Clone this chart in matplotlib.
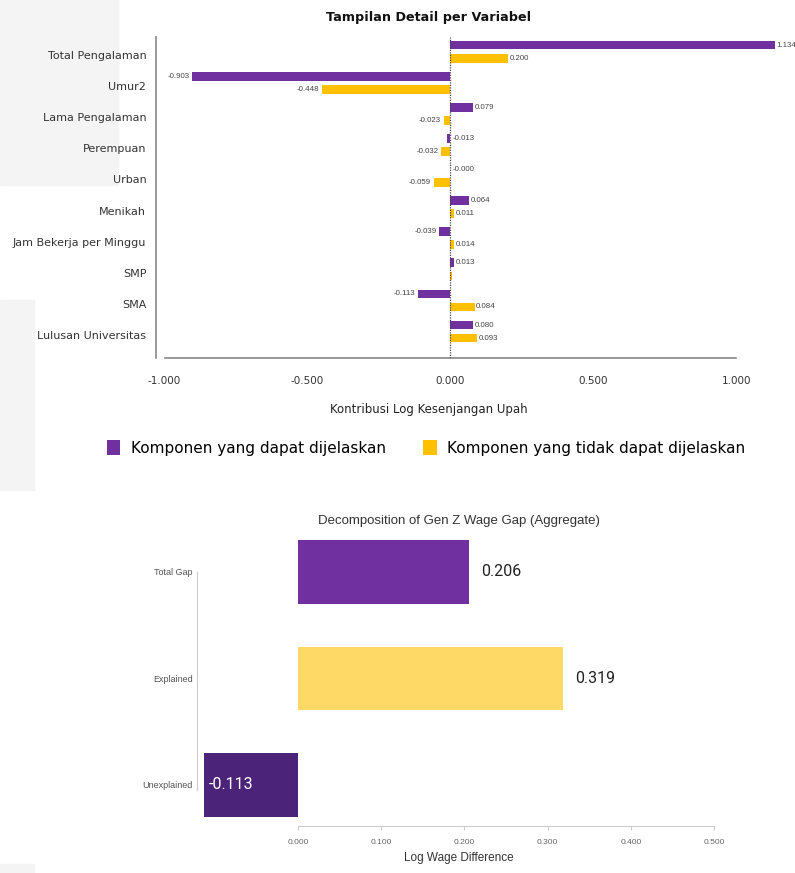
import matplotlib
matplotlib.use('Agg')
import matplotlib.pyplot as plt
from matplotlib.patches import Rectangle
import numpy as np

# data - grafik atas (detail per variabel)
variabel = ['Total Pengalaman', 'Umur2', 'Lama Pengalaman', 'Perempuan', 'Urban',
            'Menikah', 'Jam Bekerja per Minggu', 'SMP', 'SMA', 'Lulusan Universitas']
dapat_dijelaskan = [1.134, -0.903, 0.079, -0.013, -0.000, 0.064, -0.039, 0.013, -0.113, 0.080]
tidak_dijelaskan = [0.200, -0.448, -0.023, -0.032, -0.059, 0.011, 0.014, 0.004, 0.084, 0.093]
label_dijelaskan = ['1.134', '-0.903', '0.079', '-0.013', '-0.000', '0.064', '-0.039', '0.013', '-0.113', '0.080']
label_tidak = ['0.200', '-0.448', '-0.023', '-0.032', '-0.059', '0.011', '0.014', '', '0.084', '0.093']
xticks_atas = [-1.0, -0.5, 0.0, 0.5, 1.0]

# data - grafik bawah (agregat)
komponen = ['Total Gap', 'Explained', 'Unexplained']
nilai_agregat = [0.206, 0.319, -0.113]
xticks_bawah = [0.0, 0.1, 0.2, 0.3, 0.4, 0.5]

UNGU = '#7030A0'
KUNING = '#FFC000'
W, H = 795, 873

fig = plt.figure(figsize=(W / 100, H / 100), dpi=100)

# bidang abu-abu samar di kiri (bekas tangkapan layar)
for x0, y0, w, h in [(0, 0, 118, 185), (0, 300, 34, 190), (0, 864, 34, 9)]:
    fig.patches.append(Rectangle((x0 / W, 1 - (y0 + h) / H), w / W, h / H,
                                 transform=fig.transFigure, color='#f4f4f4', zorder=-10))

fnt = 'DejaVu Sans'
narrow = 'Liberation Sans'

# ---- grafik atas ----
ax1 = fig.add_axes([156 / W, 1 - 358 / H, 629 / W, 321 / H])
ax1.patch.set_alpha(0)
y = np.arange(len(variabel))
b1 = ax1.barh(y - 0.32, dapat_dijelaskan, height=0.28, color=UNGU, label='Komponen yang dapat dijelaskan')
b2 = ax1.barh(y + 0.10, tidak_dijelaskan, height=0.28, color=KUNING, label='Komponen yang tidak dapat dijelaskan')
ax1.axvline(0, color='#444444', linestyle=(0, (1, 1)), linewidth=0.9, zorder=3)


def tulis_label(ys, vals, teks):
    for yy, v, t in zip(ys, vals, teks):
        if v < -0.015:
            ax1.text(v - 0.01, yy, t, ha='right', va='center', fontsize=5.7, color='#444444', family=narrow)
        else:
            ax1.text(max(v, 0) + 0.006, yy, t, ha='left', va='center', fontsize=5.7, color='#444444', family=narrow)


tulis_label(y - 0.32, dapat_dijelaskan, label_dijelaskan)
tulis_label(y + 0.10, tidak_dijelaskan, label_tidak)

ax1.set_xlim(-1.03, 1.17)
ax1.set_ylim(9.74, -0.58)
ax1.set_yticks(y)
ax1.set_yticklabels(variabel, fontsize=8, color='#333333', family=fnt)
ax1.set_xticks(xticks_atas)
ax1.set_xticklabels([f'{t:.3f}' for t in xticks_atas], fontsize=7.5, color='#333333', family=fnt)
ax1.tick_params(axis='both', length=0)
ax1.tick_params(axis='x', pad=13)
ax1.tick_params(axis='y', pad=7)
for s in ['top', 'right']:
    ax1.spines[s].set_visible(False)
ax1.spines['left'].set_color('#888888')
ax1.spines['bottom'].set_color('#888888')
ax1.spines['left'].set_linewidth(1.2)
ax1.spines['bottom'].set_linewidth(1.2)
ax1.spines['bottom'].set_bounds(-1.0, 1.0)

fig.text(429 / W, 1 - 17 / H, 'Tampilan Detail per Variabel', ha='center', va='center',
         fontsize=9.2, fontweight='bold', color='#111111', family=fnt)
fig.text(429 / W, 1 - 410 / H, 'Kontribusi Log Kesenjangan Upah', ha='center', va='center',
         fontsize=8.5, color='#222222', family=fnt)
fig.legend(handles=[b1, b2], loc='center', bbox_to_anchor=(426 / W, 1 - 448 / H), ncol=2,
           frameon=False, handlelength=0.9, handleheight=1.1, columnspacing=2.4,
           handletextpad=0.7, prop={'family': fnt, 'size': 11})

# ---- grafik bawah ----
ax2 = fig.add_axes([197 / W, 1 - 826 / H, 533.6 / W, 291 / H])
ax2.patch.set_alpha(0)
warna_bawah = [UNGU, '#FFD966', '#4B2378']
yb = np.arange(len(komponen))
ax2.barh(yb, nilai_agregat, height=0.6, color=warna_bawah)
for yy, v in zip(yb, nilai_agregat):
    if v < 0:
        ax2.text(v + 0.006, yy, f'{v:.3f}', ha='left', va='center', fontsize=11.5, color='white', family='Roboto')
    else:
        ax2.text(v + 0.014, yy, f'{v:.3f}', ha='left', va='center', fontsize=11.5, color='#222222', family='Roboto')

ax2.set_xlim(-0.1214, 0.52)
ax2.set_ylim(2.385, -0.347)
ax2.set_yticks(yb)
ax2.set_yticklabels(komponen, fontsize=6.5, color='#555555', family=narrow)
ax2.set_xticks(xticks_bawah)
ax2.set_xticklabels([f'{t:.3f}' for t in xticks_bawah], fontsize=6, color='#666666', family=narrow)
ax2.tick_params(axis='y', length=0, pad=3)
ax2.tick_params(axis='x', length=3, color='#cccccc', pad=6)
for s in ['top', 'right']:
    ax2.spines[s].set_visible(False)
ax2.spines['left'].set_color('#cccccc')
ax2.spines['bottom'].set_color('#cccccc')
ax2.spines['left'].set_bounds(0, 2.05)
ax2.spines['bottom'].set_bounds(0, 0.5)

fig.text(459 / W, 1 - 521 / H, 'Decomposition of Gen Z Wage Gap (Aggregate)', ha='center', va='center',
         fontsize=9.5, color='#333333', family=narrow)
fig.text(459 / W, 1 - 858 / H, 'Log Wage Difference', ha='center', va='center',
         fontsize=8.5, color='#333333', family=narrow)

fig.savefig('out.png', dpi=100)
